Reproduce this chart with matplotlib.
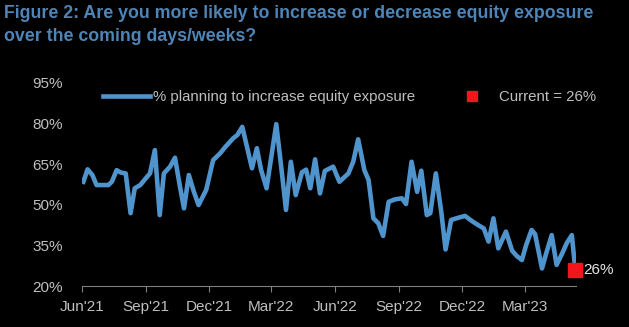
import matplotlib
matplotlib.use("Agg")
import matplotlib.pyplot as plt
import pandas as pd
from matplotlib.lines import Line2D

# values
dates = [
    "2021-06-03", "2021-06-09", "2021-06-16", "2021-06-22", "2021-06-30", "2021-07-09",
    "2021-07-14", "2021-07-21", "2021-07-27", "2021-08-03", "2021-08-10", "2021-08-16",
    "2021-08-24", "2021-08-31", "2021-09-07", "2021-09-14", "2021-09-21", "2021-09-27",
    "2021-10-06", "2021-10-13", "2021-10-20", "2021-10-26", "2021-11-02", "2021-11-09",
    "2021-11-16", "2021-11-27", "2021-12-07", "2021-12-17", "2021-12-25", "2022-01-05",
    "2022-01-11", "2022-01-18", "2022-02-01", "2022-02-08", "2022-02-14", "2022-02-22",
    "2022-03-01", "2022-03-08", "2022-03-17", "2022-03-22", "2022-03-29", "2022-04-05",
    "2022-04-14", "2022-04-20", "2022-04-26", "2022-05-03", "2022-05-10", "2022-05-17",
    "2022-05-29", "2022-06-07", "2022-06-20", "2022-06-27", "2022-07-04", "2022-07-13",
    "2022-07-19", "2022-07-26", "2022-08-02", "2022-08-09", "2022-08-17", "2022-08-26",
    "2022-09-05", "2022-09-11", "2022-09-19", "2022-09-27", "2022-10-03", "2022-10-11",
    "2022-10-16", "2022-10-24", "2022-11-01", "2022-11-07", "2022-11-15", "2022-11-25",
    "2022-12-05", "2022-12-15", "2022-12-24", "2023-01-01", "2023-01-08", "2023-01-15",
    "2023-01-22", "2023-02-02", "2023-02-11", "2023-02-18", "2023-02-25", "2023-03-03",
    "2023-03-11", "2023-03-16", "2023-03-26", "2023-04-01", "2023-04-09", "2023-04-16",
    "2023-04-24", "2023-05-01", "2023-05-08", "2023-05-13",
]
pct_increase = [
    58.5, 63.1, 61.0, 57.3, 57.3, 57.3,
    58.5, 62.8, 61.9, 61.6, 46.9, 56.1,
    57.3, 59.5, 61.6, 70.2, 46.2, 61.6,
    64.1, 67.4, 57.0, 48.7, 61.0, 55.0,
    49.9, 55.5, 66.5, 69.0, 71.5, 74.6,
    75.8, 78.8, 63.5, 70.9, 63.0, 56.1,
    68.0, 79.8, 59.8, 48.1, 65.9, 53.6,
    62.0, 63.0, 56.1, 66.8, 54.2, 62.5,
    64.1, 58.5, 61.6, 66.0, 74.2, 62.8,
    59.2, 45.0, 43.2, 38.5, 51.1, 52.0,
    52.4, 50.3, 65.9, 54.8, 62.6, 46.2,
    46.9, 61.6, 47.0, 33.5, 44.4, 45.2,
    45.9, 44.0, 42.5, 41.3, 36.4, 45.0,
    33.9, 40.1, 33.0, 31.0, 29.6, 35.0,
    40.7, 39.2, 26.5, 32.0, 38.8, 27.8,
    32.0, 36.0, 38.8, 26.0,
]
current_value = 26
y_ticks = [20, 35, 50, 65, 80, 95]
x_ticks = ["2021-06-01", "2021-09-01", "2021-12-01", "2022-03-01",
           "2022-06-01", "2022-09-01", "2022-12-01", "2023-03-01"]

dates = pd.to_datetime(dates)
x_ticks = pd.to_datetime(x_ticks)

line_color = "#4F94CD"
text_grey = "#BFBFBF"
title_blue = "#4F85B6"
red = "#F2161C"

plt.rcParams["font.family"] = ["Liberation Sans", "DejaVu Sans"]

fig = plt.figure(figsize=(6.29, 3.27), dpi=100, facecolor="black")
ax = fig.add_axes([82 / 629, 1 - 286 / 327, (576 - 82) / 629, (286 - 83) / 327])
ax.set_facecolor("black")

ax.plot(dates, pct_increase, color=line_color, lw=3.3, solid_joinstyle="round")
ax.plot(dates[-1], current_value, "s", color=red, ms=10, clip_on=False, zorder=5)
ax.annotate(f"{current_value}%", (dates[-1], current_value), xytext=(6, 0),
            textcoords="offset points", va="center", ha="left", color="#E6E6E6", fontsize=11)

ax.set_ylim(20, 95)
ax.set_xlim(pd.Timestamp("2021-06-01"), pd.Timestamp("2023-05-14"))
ax.set_yticks(y_ticks, [f"{v}%" for v in y_ticks])
ax.set_xticks(x_ticks, [d.strftime("%b'%y") for d in x_ticks])

for side in ["top", "right", "left"]:
    ax.spines[side].set_visible(False)
ax.spines["bottom"].set_color("#7F7F7F")
ax.tick_params(axis="y", length=0, pad=14, labelsize=11, labelcolor=text_grey)
ax.tick_params(axis="x", length=4, color="#7F7F7F", pad=6, labelsize=11, labelcolor=text_grey)

handles = [Line2D([], [], color=line_color, lw=3.3),
           Line2D([], [], color=red, marker="s", ls="none", ms=7)]
labels = ["% planning to increase equity exposure", "Current = 26%"]
fig.legend(handles, labels, loc="center left", bbox_to_anchor=(103 / 629, 1 - 97 / 327),
           ncol=2, frameon=False, fontsize=10.8, labelcolor=text_grey, borderpad=0,
           borderaxespad=0, handlelength=3.1, handletextpad=0.2, columnspacing=2.3)

fig.text(4 / 629, 1 - 5 / 327,
         "Figure 2: Are you more likely to increase or decrease equity exposure\nover the coming days/weeks?",
         ha="left", va="top", color=title_blue, fontsize=12.8, fontweight="bold", linespacing=1.45)

plt.savefig("out.png", dpi=100, facecolor="black")
